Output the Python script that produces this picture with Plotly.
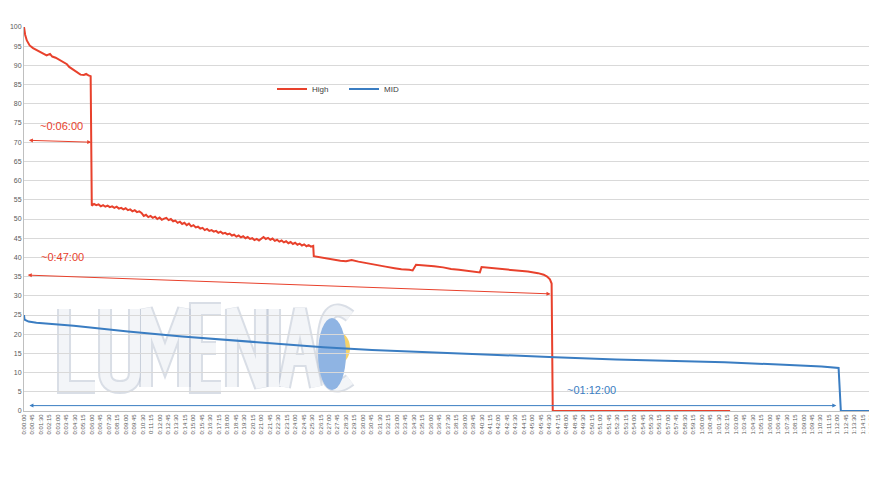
import plotly.graph_objects as go

# High mode: time in minutes, relative output in %
high_t_start = [0, 0.1, 0.25, 0.5, 0.8, 1.2, 1.6, 2.0, 2.3, 2.5, 2.8, 3.0,
                3.3, 3.5, 3.8, 4.0, 4.3, 4.5, 4.8, 5.0, 5.3, 5.5, 5.7, 5.9]
high_v_start = [100, 98, 96.5, 95.2, 94.5, 93.8, 93.2, 92.6, 93.0, 92.3, 92.0, 91.7,
                91.2, 90.8, 90.3, 89.6, 89.0, 88.8, 88.2, 87.6, 87.5, 87.8, 87.4, 87.2]

high_t_mid = [6.0, 6.2, 6.4, 6.6, 6.8, 7.0, 7.2, 7.4, 7.6, 7.8,
              8.0, 8.2, 8.4, 8.6, 8.8, 9.0, 9.2, 9.4, 9.6, 9.8,
              10.0, 10.2, 10.4, 10.6, 10.8, 11.0, 11.2, 11.4, 11.6, 11.8,
              12.0, 12.2, 12.4, 12.6, 12.8, 13.0, 13.2, 13.4, 13.6, 13.8,
              14.0, 14.2, 14.4, 14.6, 14.8, 15.0, 15.2, 15.4, 15.6, 15.8,
              16.0, 16.2, 16.4, 16.6, 16.8, 17.0, 17.2, 17.4, 17.6, 17.8,
              18.0, 18.2, 18.4, 18.6, 18.8, 19.0, 19.2, 19.4, 19.6, 19.8,
              20.0, 20.2, 20.4, 20.6, 20.8, 21.0, 21.2, 21.4, 21.6, 21.8,
              22.0, 22.2, 22.4, 22.6, 22.8, 23.0, 23.2, 23.4, 23.6, 23.8,
              24.0, 24.2, 24.4, 24.6, 24.8, 25.0, 25.2, 25.4, 25.6]
high_v_mid = [53.5, 53.9, 53.6, 53.8, 53.3, 53.6, 53.2, 53.5, 53.1, 53.3,
              52.9, 53.2, 52.7, 52.9, 52.5, 52.8, 52.3, 52.5, 52.0, 52.3,
              51.8, 52.0, 51.6, 50.8, 51.1, 50.5, 50.8, 50.3, 50.6, 50.0,
              50.4, 49.8, 50.1, 50.3, 49.7, 50.0, 49.4, 49.6, 49.0, 49.3,
              48.7, 49.0, 48.4, 48.8, 48.1, 48.4, 47.8, 48.0, 47.5, 47.7,
              47.1, 47.4, 46.9, 47.1, 46.7, 46.9, 46.4, 46.7, 46.2, 46.4,
              46.0, 46.2, 45.7, 45.9, 45.4, 45.7, 45.2, 45.5, 45.0, 45.3,
              44.8, 45.0, 44.5, 44.8, 44.4, 44.9, 45.3, 44.8, 45.1, 44.6,
              44.9, 44.3, 44.6, 44.1, 44.4, 43.9, 44.2, 43.7, 44.0, 43.5,
              43.8, 43.3, 43.6, 43.1, 43.4, 42.9, 43.2, 42.8, 43.0]

high_t_end = [25.65, 26.2, 26.8, 27.4, 28.0, 28.5, 29.0, 29.6, 30.4, 31.2, 32.0, 32.8,
              33.4, 34.1, 34.4, 34.7, 35.3, 36.3, 37.1, 37.8, 38.5, 39.3, 40.1, 40.35,
              40.5, 41.3, 42.3, 43.4, 44.6, 45.5, 46.0, 46.3, 46.55, 46.7, 46.8, 62.5]
high_v_end = [40.3, 40.0, 39.7, 39.4, 39.1, 39.0, 39.3, 38.9, 38.4, 38.0, 37.6, 37.2,
              36.9, 36.8, 36.6, 38.1, 38.0, 37.7, 37.4, 37.0, 36.8, 36.5, 36.2, 36.1,
              37.5, 37.3, 37.0, 36.7, 36.3, 35.9, 35.5, 35.0, 34.3, 33.2, 0, 0]

# MID mode
mid_t = [0, 0.05, 0.4, 1.1, 4.4, 9.2, 14.0, 18.8, 23.6, 26.5, 30.8, 38.0, 42.8, 47.0,
         52.4, 57.2, 62.0, 66.8, 70.6, 72.1, 72.3, 75.5]
mid_v = [25.0, 23.8, 23.3, 23.0, 22.2, 20.7, 19.4, 18.3, 17.2, 16.6, 15.9, 15.0, 14.4, 14.0,
         13.4, 13.1, 12.7, 12.1, 11.6, 11.2, 0, 0]

high_t = high_t_start + high_t_mid + high_t_end
high_v = high_v_start + high_v_mid + high_v_end

tick_vals = [i * 0.75 for i in range(101)]
tick_text = [f"{s // 3600}:{s % 3600 // 60:02d}:{s % 60:02d}" for s in (i * 45 for i in range(101))]

RED = "#E8412C"
BLUE = "#3A7DC2"
OFF = 8  # page body margin
W, H = 869, 485
L, T, B = 16, 19, 82


def px(x):
    # screen pixel -> paper
    return (x - OFF - L) / (W - L)


def py(y):
    return (H - B - (y - OFF)) / (H - B - T)


def path(cmds):
    out = []
    for c in cmds:
        if c[0] == "Q":
            out.append(f"Q{px(c[1]):.4f},{py(c[2]):.4f} {px(c[3]):.4f},{py(c[4]):.4f}")
        else:
            out.append(f"{c[0]}{px(c[1]):.4f},{py(c[2]):.4f}")
    return " ".join(out)


letters = [
    [("M", 64, 309), ("L", 64, 387), ("L", 95, 387)],
    [("M", 105, 309), ("L", 105, 372), ("Q", 105, 387, 120, 387), ("Q", 135, 387, 135, 372), ("L", 135, 309)],
    [("M", 146, 387), ("L", 146, 309), ("L", 165, 360), ("L", 184, 309), ("L", 184, 387)],
    [("M", 221, 309), ("L", 196, 309), ("L", 196, 387), ("L", 221, 387), ("M", 196, 348), ("L", 216, 348)],
    [("M", 232, 387), ("L", 232, 309), ("L", 261, 387), ("L", 261, 309)],
    [("M", 274, 309), ("L", 274, 387)],
    [("M", 284, 387), ("L", 300, 309), ("L", 316, 387), ("M", 290, 360), ("L", 310, 360)],
    [("M", 350, 316), ("Q", 324, 296, 323, 348), ("Q", 324, 400, 350, 380)],
]

fig = go.Figure()

fig.add_trace(go.Scatter(x=high_t, y=high_v, mode="lines", name="High",
                         line=dict(color=RED, width=2)))
fig.add_trace(go.Scatter(x=mid_t, y=mid_v, mode="lines", name="MID",
                         line=dict(color=BLUE, width=2)))

# watermark
for lt in letters:
    fig.add_shape(type="path", path=path(lt), xref="paper", yref="paper", layer="below",
                  line=dict(color="rgba(185,194,210,0.55)", width=14))
for lt in letters:
    fig.add_shape(type="path", path=path(lt), xref="paper", yref="paper", layer="below",
                  line=dict(color="#F3F5F8", width=10))
fig.add_shape(type="circle", xref="paper", yref="paper", layer="below",
              x0=px(326), x1=px(350), y0=py(364), y1=py(332),
              fillcolor="#F6D36A", line=dict(width=0))
fig.add_shape(type="circle", xref="paper", yref="paper", layer="below",
              x0=px(318), x1=px(346), y0=py(390), y1=py(318),
              fillcolor="#8FB4E3", line=dict(width=0))

# duration markers
arrows = [
    (0.3, 70.5, 5.95, 70.0, RED),
    (0.2, 35.4, 46.6, 30.5, RED),
    (0.35, 1.4, 71.9, 1.4, BLUE),
]
for x0, y0, x1, y1, c in arrows:
    fig.add_annotation(x=x1, y=y1, ax=x0, ay=y0, xref="x", yref="y", axref="x", ayref="y",
                       text="", showarrow=True, arrowhead=2, arrowside="end+start",
                       arrowsize=0.8, arrowwidth=1, arrowcolor=c)

labels = [("~0:06:00", 3.3, 74.3, RED), ("~0:47:00", 3.45, 40.1, RED), ("~01:12:00", 50.2, 5.6, BLUE)]
for txt, x, y, c in labels:
    fig.add_annotation(x=x, y=y, xref="x", yref="y", text=txt, showarrow=False,
                       font=dict(size=11, color=c, family="Liberation Sans"))

fig.update_layout(
    width=W, height=H,
    margin=dict(l=L, r=0, t=T, b=B),
    plot_bgcolor="white", paper_bgcolor="white",
    font=dict(family="Liberation Sans", color="#595959"),
    legend=dict(orientation="h", x=px(272), y=py(89), xanchor="left", yanchor="middle",
                font=dict(size=8, color="#404040"), bgcolor="rgba(0,0,0,0)",
                entrywidth=27, entrywidthmode="pixels"),
    showlegend=True,
)
fig.update_xaxes(range=[0, 75.5], tickmode="array", tickvals=tick_vals, ticktext=tick_text,
                 tickangle=-90, tickfont=dict(size=6, color="#595959"), showgrid=False,
                 zeroline=False, showline=True, linecolor="#BFBFBF", ticks="", automargin=False)
fig.update_yaxes(range=[0, 100], dtick=5, tickfont=dict(size=7, color="#595959"),
                 showgrid=True, gridcolor="#D9D9D9", gridwidth=1, zeroline=False,
                 showline=True, linecolor="#BFBFBF", ticks="", automargin=False)

fig.write_html("out.html")
